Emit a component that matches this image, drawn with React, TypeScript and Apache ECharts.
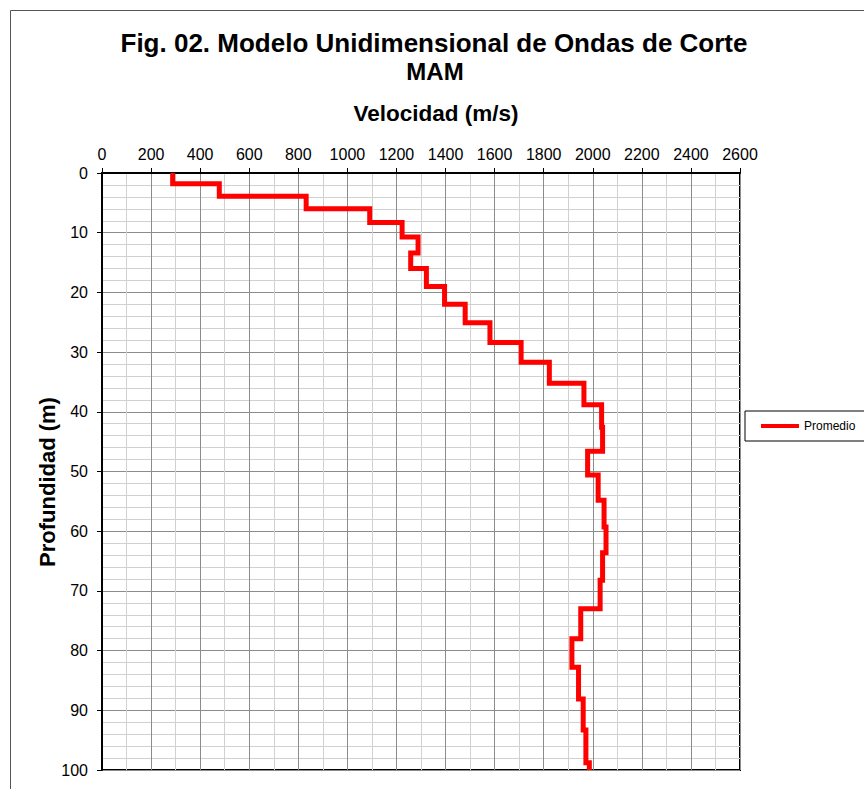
import React, { useEffect, useRef } from "react";
import * as echarts from "echarts";

// Layer boundaries (depth, m) and shear-wave velocity of each layer (m/s)
const depthBoundaries = [0, 1.8, 3.9, 6.0, 8.3, 10.7, 13.4, 16.0, 19.0, 22.0, 25.1, 28.4, 31.7, 35.2, 38.8, 42.6, 46.6, 50.6, 54.8, 59.3, 63.6, 68.2, 73.0, 78.0, 82.8, 88.1, 93.3, 98.8, 100];
const velocities = [288, 478, 832, 1091, 1223, 1288, 1258, 1322, 1396, 1480, 1581, 1708, 1823, 1964, 2036, 2040, 1979, 2022, 2046, 2054, 2040, 2030, 1951, 1915, 1942, 1961, 1972, 1986];

const titleText = "Fig. 02. Modelo Unidimensional de Ondas de Corte";
const subtitleText = "MAM";
const xAxisName = "Velocidad (m/s)";
const yAxisName = "Profundidad (m)";
const seriesName = "Promedio";

const FONT = 'Arial, "Liberation Sans", Helvetica, sans-serif';

export default function App() {
  const ref = useRef<HTMLDivElement>(null);

  useEffect(() => {
    if (!ref.current) return;
    const chart = echarts.init(ref.current, null, { renderer: "svg" });

    const stepData: number[][] = [];
    velocities.forEach((v, i) => {
      stepData.push([v, depthBoundaries[i]]);
      stepData.push([v, depthBoundaries[i + 1]]);
    });

    chart.setOption({
      animation: false,
      backgroundColor: "#fff",
      textStyle: { fontFamily: FONT },
      graphic: [
        {
          type: "rect",
          silent: true,
          shape: { x: 10.5, y: 10.5, width: 900, height: 900 },
          style: { fill: "none", stroke: "#555", lineWidth: 1 },
        },
        {
          type: "text",
          x: 434,
          y: 43,
          style: {
            text: titleText,
            fill: "#000",
            font: `bold 26px ${FONT}`,
            align: "center",
            verticalAlign: "middle",
          },
        },
        {
          type: "text",
          x: 435,
          y: 71,
          style: {
            text: subtitleText,
            fill: "#000",
            font: `bold 24px ${FONT}`,
            align: "center",
            verticalAlign: "middle",
          },
        },
        {
          type: "text",
          x: 436,
          y: 113,
          style: {
            text: xAxisName,
            fill: "#000",
            font: `bold 22.5px ${FONT}`,
            align: "center",
            verticalAlign: "middle",
          },
        },
        {
          type: "text",
          x: 47,
          y: 482,
          rotation: Math.PI / 2,
          style: {
            text: yAxisName,
            fill: "#000",
            font: `bold 22px ${FONT}`,
            align: "center",
            verticalAlign: "middle",
          },
        },
      ],
      legend: {
        data: [seriesName],
        left: 745,
        top: 411,
        orient: "vertical",
        icon: "rect",
        borderColor: "#000",
        borderWidth: 1,
        borderRadius: 0,
        padding: [8, 40, 8, 16],
        itemWidth: 38,
        itemHeight: 4,
        itemGap: 4,
        textStyle: { fontSize: 12, color: "#000", fontFamily: FONT, lineHeight: 14 },
      },
      grid: {
        left: 102,
        top: 173,
        right: 124,
        bottom: 19,
        show: true,
        borderColor: "#000",
        borderWidth: 2,
        backgroundColor: "#fff",
      },
      xAxis: {
        type: "value",
        position: "top",
        min: 0,
        max: 2600,
        interval: 200,
        axisLine: { show: true, lineStyle: { color: "#000", width: 2 } },
        axisTick: { show: true, inside: false, length: 5, lineStyle: { color: "#000", width: 1 } },
        axisLabel: {
          margin: 11,
          fontSize: 16,
          color: "#000",
          fontFamily: FONT,
          formatter: (v: number) => String(v),
        },
        splitLine: { show: true, lineStyle: { color: "#8c8c8c", width: 1 } },
        minorTick: { show: false, splitNumber: 2 },
        minorSplitLine: { show: true, lineStyle: { color: "#d0d0d0", width: 1 } },
      },
      yAxis: {
        type: "value",
        inverse: true,
        min: 0,
        max: 100,
        interval: 10,
        axisLine: { show: true, lineStyle: { color: "#000", width: 2 } },
        axisTick: { show: true, inside: false, length: 5, lineStyle: { color: "#000", width: 1 } },
        axisLabel: {
          margin: 14,
          fontSize: 16,
          color: "#000",
          fontFamily: FONT,
          formatter: (v: number) => String(v),
        },
        splitLine: { show: true, lineStyle: { color: "#8c8c8c", width: 1 } },
        minorTick: { show: false, splitNumber: 5 },
        minorSplitLine: { show: true, lineStyle: { color: "#d0d0d0", width: 1 } },
      },
      series: [
        {
          name: seriesName,
          type: "line",
          data: stepData,
          symbol: "none",
          showSymbol: false,
          lineStyle: { color: "#ff0000", width: 5, join: "miter", cap: "butt" },
          itemStyle: { color: "#ff0000" },
          z: 5,
        },
      ],
    });

    return () => chart.dispose();
  }, []);

  return (
    <div
      ref={ref}
      style={{ position: "absolute", left: 0, top: 0, width: 864, height: 789 }}
    />
  );
}
